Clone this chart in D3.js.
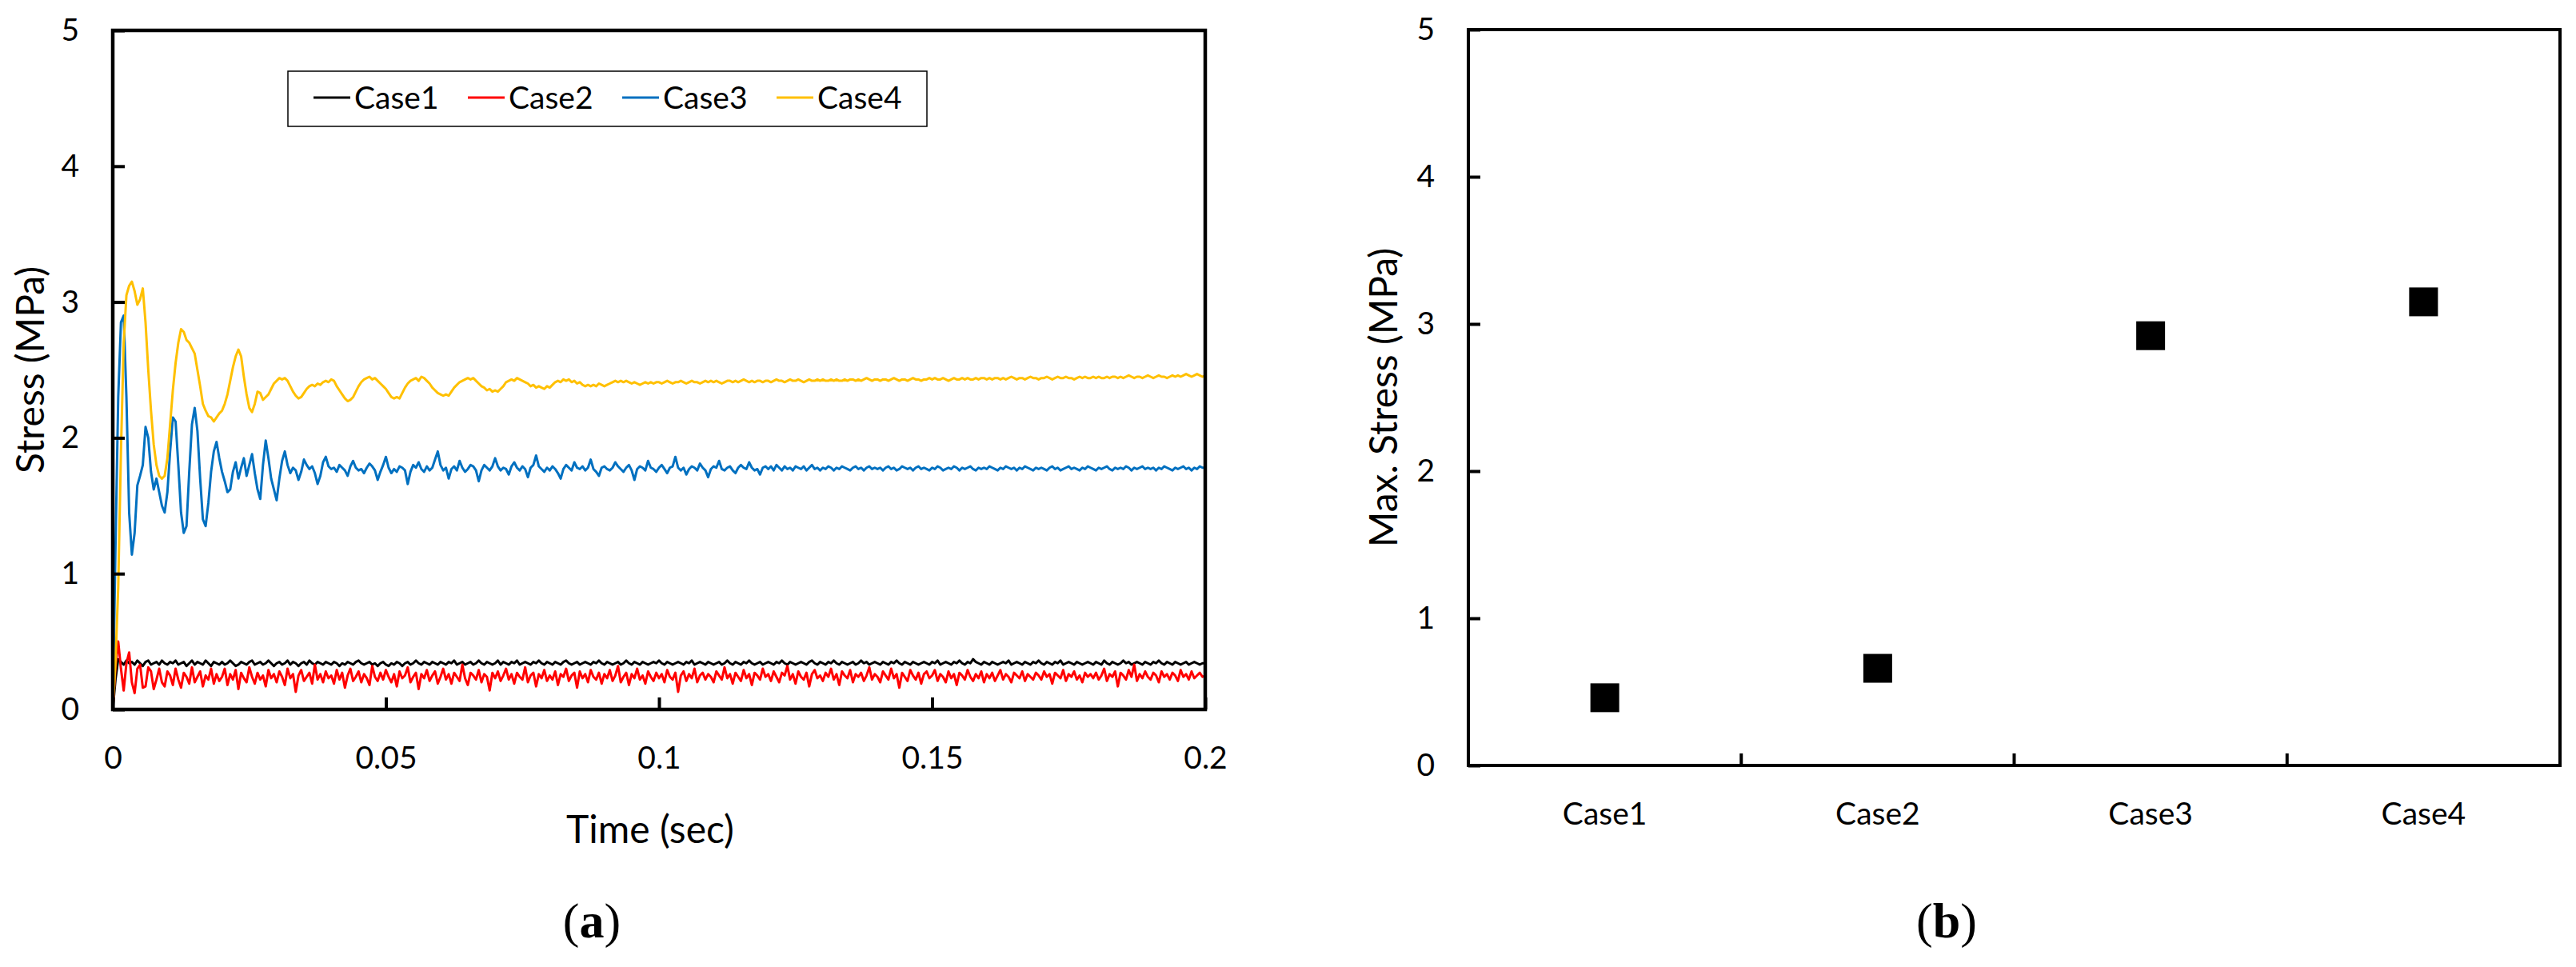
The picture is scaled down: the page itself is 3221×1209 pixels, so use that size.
<!DOCTYPE html>
<html>
<head>
<meta charset="utf-8">
<script src="https://cdn.jsdelivr.net/npm/d3@7"></script>
<style>
  body { margin: 0; background: #fff; }
  text { font-family: Lato, "Open Sans", sans-serif; fill: #000; }
</style>
</head>
<body>
<div id="chart"></div>
<script>
// sampled every 0.5 ms, 0 .. 0.2 s
const timeStep = 0.0005;

const case1Stress = [
  0, 0.22, 0.37, 0.35, 0.33, 0.36, 0.34, 0.35, 0.33, 0.36, 0.34, 0.32, 0.35, 0.36, 0.33, 0.34, 0.35, 0.33, 0.36, 0.34,
  0.33, 0.35, 0.34, 0.36, 0.33, 0.34, 0.35, 0.32, 0.34, 0.36, 0.33, 0.35, 0.34, 0.33, 0.36, 0.34, 0.32, 0.35, 0.34, 0.33,
  0.35, 0.33, 0.34, 0.36, 0.34, 0.32, 0.33, 0.35, 0.34, 0.33, 0.35, 0.36, 0.33, 0.34, 0.35, 0.33, 0.34, 0.36, 0.34, 0.32,
  0.34, 0.35, 0.33, 0.34, 0.36, 0.33, 0.35, 0.34, 0.32, 0.34, 0.35, 0.33, 0.36, 0.34, 0.33, 0.35, 0.34, 0.33, 0.35, 0.34,
  0.33, 0.35, 0.34, 0.32, 0.34, 0.33, 0.35, 0.34, 0.33, 0.35, 0.36, 0.34, 0.33, 0.34, 0.35, 0.33, 0.34, 0.32, 0.34, 0.35,
  0.33, 0.32, 0.34, 0.33, 0.35, 0.34, 0.32, 0.34, 0.35, 0.33, 0.34, 0.36, 0.34, 0.33, 0.35, 0.34, 0.33, 0.35, 0.34, 0.33,
  0.35, 0.34, 0.33, 0.35, 0.34, 0.36, 0.33, 0.34, 0.35, 0.33, 0.34, 0.35, 0.33, 0.34, 0.36, 0.34, 0.33, 0.35, 0.34, 0.33,
  0.34, 0.36, 0.33, 0.35, 0.34, 0.33, 0.35, 0.34, 0.36, 0.33, 0.34, 0.35, 0.34, 0.33, 0.35, 0.34, 0.36, 0.34, 0.33, 0.35,
  0.34, 0.33, 0.35, 0.34, 0.33, 0.35, 0.36, 0.34, 0.33, 0.34, 0.35, 0.33, 0.34, 0.35, 0.34, 0.33, 0.35, 0.34, 0.36, 0.34,
  0.33, 0.35, 0.34, 0.33, 0.34, 0.35, 0.33, 0.34, 0.36, 0.34, 0.33, 0.35, 0.34, 0.33, 0.35, 0.34, 0.33, 0.34, 0.35, 0.34,
  0.36, 0.34, 0.33, 0.35, 0.34, 0.33, 0.34, 0.35, 0.34, 0.33, 0.35, 0.34, 0.36, 0.33, 0.34, 0.35, 0.34, 0.33, 0.35, 0.34,
  0.33, 0.34, 0.35, 0.33, 0.34, 0.36, 0.34, 0.33, 0.35, 0.34, 0.33, 0.35, 0.34, 0.36, 0.34, 0.33, 0.34, 0.35, 0.33, 0.34,
  0.35, 0.34, 0.33, 0.35, 0.34, 0.36, 0.34, 0.33, 0.35, 0.34, 0.33, 0.34, 0.35, 0.34, 0.33, 0.35, 0.36, 0.34, 0.33, 0.35,
  0.34, 0.33, 0.35, 0.34, 0.36, 0.34, 0.33, 0.35, 0.34, 0.33, 0.34, 0.35, 0.33, 0.34, 0.36, 0.34, 0.35, 0.33, 0.34, 0.35,
  0.34, 0.33, 0.35, 0.34, 0.33, 0.35, 0.34, 0.36, 0.34, 0.33, 0.35, 0.34, 0.33, 0.35, 0.34, 0.33, 0.34, 0.35, 0.34, 0.33,
  0.35, 0.34, 0.36, 0.33, 0.34, 0.35, 0.34, 0.33, 0.35, 0.34, 0.36, 0.34, 0.33, 0.35, 0.34, 0.37, 0.35, 0.34, 0.33, 0.35,
  0.34, 0.33, 0.35, 0.34, 0.33, 0.34, 0.35, 0.34, 0.36, 0.33, 0.34, 0.35, 0.34, 0.33, 0.35, 0.34, 0.33, 0.35, 0.34, 0.36,
  0.34, 0.33, 0.35, 0.34, 0.33, 0.35, 0.34, 0.36, 0.33, 0.34, 0.35, 0.34, 0.33, 0.35, 0.34, 0.33, 0.34, 0.35, 0.34, 0.33,
  0.35, 0.34, 0.33, 0.36, 0.34, 0.33, 0.35, 0.34, 0.33, 0.34, 0.36, 0.34, 0.35, 0.33, 0.34, 0.35, 0.34, 0.33, 0.35, 0.34,
  0.33, 0.35, 0.34, 0.36, 0.34, 0.33, 0.35, 0.34, 0.33, 0.35, 0.34, 0.33, 0.34, 0.35, 0.33, 0.34, 0.35, 0.34, 0.33, 0.34,
  0.34
];

const case2Stress = [
  0, 0.32, 0.5, 0.3, 0.14, 0.34, 0.42, 0.2, 0.12, 0.3, 0.33, 0.16, 0.17, 0.31, 0.28, 0.15, 0.22, 0.3, 0.2, 0.17,
  0.28, 0.25, 0.18, 0.3, 0.22, 0.16, 0.27, 0.24, 0.19, 0.31, 0.2, 0.24, 0.28, 0.17, 0.25, 0.22, 0.3, 0.19, 0.26, 0.21,
  0.24, 0.3, 0.18, 0.26, 0.22, 0.29, 0.15, 0.27, 0.23, 0.2, 0.31, 0.24, 0.19, 0.27, 0.22, 0.25, 0.17, 0.29, 0.23, 0.26,
  0.2, 0.28, 0.24, 0.18, 0.3, 0.23, 0.26, 0.13, 0.25, 0.29, 0.21, 0.24, 0.27, 0.19, 0.33, 0.22, 0.26, 0.2, 0.28, 0.23,
  0.25, 0.19, 0.29, 0.22, 0.27, 0.16, 0.25, 0.3, 0.21, 0.24, 0.28, 0.2, 0.26, 0.23, 0.18, 0.32, 0.24, 0.21, 0.27, 0.22,
  0.29, 0.24, 0.2, 0.26, 0.17, 0.28, 0.23, 0.25, 0.31, 0.2, 0.24, 0.27, 0.15, 0.26, 0.23, 0.29, 0.21, 0.25, 0.28, 0.19,
  0.24, 0.3, 0.22, 0.26, 0.19, 0.27, 0.24, 0.21, 0.33, 0.23, 0.18, 0.27, 0.25, 0.22, 0.29, 0.2, 0.26, 0.24, 0.14, 0.27,
  0.23, 0.28, 0.21, 0.25, 0.3, 0.22, 0.26, 0.19, 0.27, 0.24, 0.22, 0.31, 0.2, 0.25, 0.27, 0.17, 0.26, 0.23, 0.29, 0.21,
  0.25, 0.22, 0.28, 0.18, 0.26, 0.24, 0.3, 0.21, 0.25, 0.27, 0.16, 0.28, 0.23, 0.26, 0.2, 0.29, 0.24, 0.22, 0.27, 0.19,
  0.26, 0.23, 0.29, 0.21, 0.25, 0.32, 0.2, 0.24, 0.27, 0.18, 0.26, 0.23, 0.3, 0.22, 0.25, 0.19, 0.28, 0.24, 0.21, 0.27,
  0.23, 0.26, 0.2, 0.29, 0.24, 0.22, 0.27, 0.13, 0.25, 0.28, 0.21, 0.26, 0.23, 0.3, 0.2, 0.25, 0.27, 0.22, 0.26, 0.24,
  0.2, 0.28, 0.25, 0.22, 0.31, 0.23, 0.26, 0.19, 0.27, 0.24, 0.21, 0.29, 0.23, 0.26, 0.18, 0.27, 0.25, 0.22, 0.3, 0.24,
  0.26, 0.21, 0.28, 0.24, 0.2, 0.27, 0.25, 0.32, 0.22, 0.26, 0.19, 0.28, 0.24, 0.22, 0.27, 0.17, 0.26, 0.29, 0.23, 0.25,
  0.21, 0.27, 0.24, 0.3, 0.22, 0.26, 0.18, 0.28, 0.25, 0.23, 0.29, 0.2, 0.26, 0.24, 0.27, 0.21, 0.25, 0.31, 0.22, 0.26,
  0.24, 0.2, 0.28, 0.25, 0.22, 0.3, 0.23, 0.26, 0.16, 0.27, 0.24, 0.21, 0.29, 0.25, 0.22, 0.27, 0.19, 0.26, 0.28, 0.23,
  0.25, 0.29, 0.21, 0.26, 0.24, 0.2, 0.28, 0.23, 0.26, 0.18, 0.27, 0.25, 0.22, 0.29, 0.24, 0.21, 0.26, 0.23, 0.28, 0.2,
  0.26, 0.23, 0.27, 0.21, 0.25, 0.29, 0.22, 0.26, 0.24, 0.2, 0.27, 0.25, 0.23, 0.28, 0.21, 0.26, 0.24, 0.22, 0.27, 0.25,
  0.22, 0.28, 0.24, 0.26, 0.19, 0.27, 0.25, 0.23, 0.29, 0.21, 0.26, 0.24, 0.28, 0.22, 0.25, 0.2, 0.27, 0.24, 0.26, 0.23,
  0.27, 0.22, 0.25, 0.3, 0.21, 0.26, 0.24, 0.28, 0.17, 0.27, 0.25, 0.22, 0.29, 0.24, 0.33, 0.21, 0.26, 0.23, 0.28, 0.24,
  0.22, 0.27, 0.25, 0.2, 0.28, 0.24, 0.26, 0.22, 0.27, 0.25, 0.21, 0.29, 0.24, 0.26, 0.22, 0.28, 0.23, 0.25, 0.27, 0.24,
  0.25
];

const case3Stress = [
  0, 1.2, 2.3, 2.85, 2.9, 2.3, 1.45, 1.14, 1.3, 1.65, 1.72, 1.8, 2.08, 2.0, 1.75, 1.62, 1.7, 1.6, 1.5, 1.45,
  1.6, 1.9, 2.15, 2.12, 1.8, 1.45, 1.3, 1.35, 1.75, 2.1, 2.22, 2.05, 1.7, 1.4, 1.35, 1.52, 1.75, 1.9, 1.97, 1.85,
  1.75, 1.68, 1.6, 1.62, 1.75, 1.82, 1.7, 1.78, 1.85, 1.72, 1.8, 1.88, 1.74, 1.62, 1.55, 1.8, 1.98, 1.85, 1.7, 1.62,
  1.54, 1.7, 1.83, 1.9, 1.8, 1.74, 1.78, 1.76, 1.69, 1.75, 1.84, 1.8, 1.77, 1.79, 1.74, 1.66, 1.72, 1.82, 1.86, 1.79,
  1.77, 1.78, 1.75, 1.8, 1.78, 1.76, 1.72, 1.79, 1.83, 1.78, 1.76, 1.77, 1.74, 1.78, 1.81, 1.79, 1.76, 1.69, 1.75, 1.8,
  1.86, 1.78, 1.74, 1.77, 1.75, 1.79, 1.78, 1.76, 1.66, 1.75, 1.8, 1.78, 1.82, 1.77, 1.75, 1.79, 1.76, 1.78, 1.84, 1.9,
  1.8, 1.76, 1.78, 1.7, 1.77, 1.79, 1.76, 1.83, 1.78, 1.75, 1.77, 1.8, 1.79, 1.76, 1.68, 1.76, 1.8, 1.78, 1.76, 1.79,
  1.85, 1.79, 1.76, 1.78, 1.77, 1.73, 1.79, 1.82, 1.78, 1.76, 1.79, 1.77, 1.71, 1.78, 1.8, 1.87, 1.79, 1.77, 1.75, 1.78,
  1.76, 1.79, 1.77, 1.74, 1.7, 1.77, 1.8, 1.78, 1.76, 1.82, 1.78, 1.77, 1.79, 1.76, 1.78, 1.84, 1.77, 1.75, 1.72, 1.78,
  1.79, 1.77, 1.76, 1.78, 1.82, 1.79, 1.77, 1.75, 1.78, 1.8, 1.76, 1.69, 1.77, 1.79, 1.78, 1.76, 1.83, 1.78, 1.77, 1.75,
  1.78, 1.8, 1.77, 1.74, 1.78, 1.79, 1.86, 1.78, 1.76, 1.78, 1.73, 1.77, 1.79, 1.78, 1.76, 1.81, 1.78, 1.76, 1.71, 1.77,
  1.79, 1.78, 1.83, 1.77, 1.76, 1.78, 1.79, 1.76, 1.74, 1.78, 1.8, 1.78, 1.77, 1.82, 1.78, 1.76, 1.77, 1.73, 1.78, 1.79,
  1.77, 1.79, 1.76, 1.8, 1.78, 1.76, 1.79, 1.77, 1.78, 1.76, 1.79, 1.78, 1.77, 1.79, 1.76, 1.78, 1.8, 1.77, 1.78, 1.76,
  1.78, 1.77, 1.79, 1.78, 1.76, 1.78, 1.77, 1.79, 1.78, 1.77, 1.76, 1.78, 1.79, 1.77, 1.78, 1.76, 1.78, 1.79, 1.77, 1.78,
  1.77, 1.78, 1.76, 1.78, 1.79, 1.77, 1.78, 1.76, 1.77, 1.79, 1.78, 1.77, 1.78, 1.76, 1.78, 1.79, 1.77, 1.78, 1.77, 1.76,
  1.78, 1.77, 1.79, 1.78, 1.76, 1.77, 1.78, 1.77, 1.79, 1.78, 1.76, 1.78, 1.77, 1.78, 1.79, 1.77, 1.76, 1.78, 1.77, 1.78,
  1.77, 1.79, 1.78, 1.77, 1.76, 1.78, 1.77, 1.79, 1.78, 1.77, 1.78, 1.76, 1.78, 1.77, 1.79, 1.78, 1.77, 1.76, 1.78, 1.77,
  1.78, 1.77, 1.76, 1.78, 1.79, 1.77, 1.78, 1.76, 1.77, 1.78, 1.79, 1.77, 1.78, 1.77, 1.76, 1.78, 1.77, 1.79, 1.78, 1.77,
  1.76, 1.78, 1.77, 1.78, 1.79, 1.77, 1.76, 1.78, 1.77, 1.78, 1.77, 1.79, 1.78, 1.76, 1.78, 1.77, 1.78, 1.79, 1.77, 1.78,
  1.77, 1.78, 1.76, 1.78, 1.77, 1.79, 1.78, 1.77, 1.76, 1.78, 1.77, 1.78, 1.79, 1.77, 1.78, 1.76, 1.78, 1.77, 1.79, 1.78,
  1.78
];

const case4Stress = [
  0, 0.35, 0.9, 1.9, 2.7, 3.05, 3.12, 3.15, 3.08, 2.98, 3.02, 3.1, 2.85, 2.5, 2.2, 1.95, 1.8, 1.72, 1.7, 1.72,
  1.85, 2.1, 2.35, 2.55, 2.7, 2.8, 2.78, 2.72, 2.7, 2.66, 2.62, 2.5, 2.38, 2.25, 2.2, 2.16, 2.15, 2.12, 2.15, 2.18,
  2.2, 2.25, 2.32, 2.42, 2.52, 2.6, 2.65, 2.6, 2.45, 2.32, 2.22, 2.19, 2.25, 2.34, 2.33, 2.28, 2.3, 2.32, 2.36, 2.4,
  2.42, 2.44, 2.43, 2.44, 2.42, 2.38, 2.34, 2.31, 2.29, 2.3, 2.33, 2.36, 2.38, 2.39, 2.38, 2.4, 2.39, 2.41, 2.42, 2.41,
  2.43, 2.42, 2.38, 2.35, 2.32, 2.29, 2.27, 2.28, 2.3, 2.34, 2.38, 2.41, 2.43, 2.44, 2.45, 2.43, 2.44, 2.42, 2.4, 2.38,
  2.36, 2.33, 2.3, 2.29, 2.3, 2.29, 2.33, 2.37, 2.4, 2.42, 2.43, 2.44, 2.42, 2.45, 2.44, 2.42, 2.4, 2.37, 2.35, 2.33,
  2.32, 2.31, 2.32, 2.31, 2.34, 2.37, 2.39, 2.41, 2.42, 2.43, 2.44, 2.43, 2.44, 2.42, 2.4, 2.38, 2.37, 2.35, 2.36, 2.34,
  2.35, 2.34, 2.36, 2.38, 2.41, 2.42, 2.43, 2.42, 2.44, 2.43, 2.42, 2.41, 2.4, 2.38, 2.39, 2.37, 2.38, 2.37, 2.36, 2.38,
  2.37, 2.39, 2.41, 2.42, 2.41, 2.43, 2.42, 2.43, 2.41, 2.42, 2.4, 2.41, 2.39, 2.38, 2.39, 2.38, 2.39, 2.38, 2.4, 2.39,
  2.38, 2.39, 2.4, 2.41, 2.42, 2.41, 2.42, 2.41, 2.42, 2.41, 2.4, 2.41, 2.4, 2.39, 2.4, 2.41, 2.4, 2.41, 2.4, 2.41,
  2.41, 2.4, 2.41, 2.42, 2.41, 2.4, 2.41, 2.41, 2.42, 2.41, 2.4, 2.41, 2.42, 2.41, 2.41, 2.4, 2.41, 2.42, 2.41, 2.42,
  2.41, 2.42, 2.41, 2.4, 2.41, 2.42, 2.42, 2.41, 2.42, 2.41, 2.42, 2.43, 2.42, 2.41, 2.42, 2.41, 2.42, 2.42, 2.41, 2.42,
  2.42, 2.41, 2.42, 2.43, 2.42, 2.42, 2.41, 2.42, 2.43, 2.42, 2.42, 2.43, 2.42, 2.41, 2.42, 2.43, 2.42, 2.42, 2.43, 2.42,
  2.43, 2.42, 2.42, 2.43, 2.42, 2.43, 2.42, 2.42, 2.43, 2.42, 2.43, 2.43, 2.42, 2.43, 2.42, 2.43, 2.44, 2.43, 2.42, 2.43,
  2.43, 2.42, 2.43, 2.43, 2.42, 2.43, 2.44, 2.43, 2.42, 2.43, 2.43, 2.42, 2.43, 2.44, 2.43, 2.43, 2.42, 2.43, 2.43, 2.44,
  2.43, 2.44, 2.43, 2.43, 2.44, 2.43, 2.42, 2.43, 2.44, 2.43, 2.43, 2.44, 2.43, 2.44, 2.43, 2.43, 2.44, 2.43, 2.44, 2.44,
  2.43, 2.44, 2.43, 2.44, 2.44, 2.43, 2.44, 2.43, 2.44, 2.45, 2.44, 2.43, 2.44, 2.44, 2.43, 2.44, 2.45, 2.44, 2.44, 2.43,
  2.44, 2.44, 2.45, 2.44, 2.43, 2.44, 2.45, 2.44, 2.44, 2.45, 2.44, 2.44, 2.43, 2.44, 2.45, 2.44, 2.45, 2.44, 2.44, 2.45,
  2.44, 2.45, 2.44, 2.44, 2.45, 2.44, 2.45, 2.45, 2.44, 2.45, 2.44, 2.45, 2.46, 2.45, 2.44, 2.45, 2.45, 2.44, 2.45, 2.46,
  2.45, 2.44, 2.45, 2.46, 2.45, 2.45, 2.44, 2.45, 2.46, 2.45, 2.46, 2.45, 2.46, 2.47, 2.46, 2.45, 2.46, 2.47, 2.46, 2.45,
  2.46
];

const caseNames = ["Case1", "Case2", "Case3", "Case4"];
const caseColors = ["#000000", "#ff0000", "#0070c0", "#ffc000"];
const maxStress = [0.46, 0.66, 2.92, 3.15];
const stressTicks = [0, 1, 2, 3, 4, 5];
const timeTicks = [0, 0.05, 0.1, 0.15, 0.2];

const series = [case1Stress, case2Stress, case3Stress, case4Stress];

const svg = d3.select("#chart").append("svg")
  .attr("width", 3221)
  .attr("height", 1209)
  .style("display", "block");

svg.append("rect").attr("width", 3221).attr("height", 1209).attr("fill", "#fff");

// ---------- panel (a): stress vs time ----------
const x = d3.scaleLinear([0, 0.2], [141, 1507]);
const y = d3.scaleLinear([0, 5], [887, 38]);

svg.append("clipPath").attr("id", "clipA")
  .append("rect")
    .attr("x", x(0)).attr("y", y(5))
    .attr("width", x(0.2) - x(0)).attr("height", y(0) - y(5));

const line = d3.line()
  .x((d, i) => x(i * timeStep))
  .y(d => y(d));

svg.append("g")
    .attr("clip-path", "url(#clipA)")
  .selectAll("path")
  .data(series)
  .join("path")
    .attr("fill", "none")
    .attr("stroke", (d, i) => caseColors[i])
    .attr("stroke-width", 3)
    .attr("stroke-linejoin", "round")
    .attr("d", line);

const yAxisA = svg.append("g")
  .attr("transform", `translate(${x(0)},0)`)
  .call(d3.axisLeft(y).tickValues(stressTicks).tickFormat(d => String(d))
    .tickSize(-15).tickPadding(42));

const xAxisA = svg.append("g")
  .attr("transform", `translate(0,${y(0)})`)
  .call(d3.axisBottom(x).tickValues(timeTicks).tickFormat(d => String(d))
    .tickSize(-15).tickPadding(46));

[yAxisA, xAxisA].forEach(g => {
  g.select(".domain").remove();
  g.selectAll("line").attr("stroke", "#000").attr("stroke-width", 4);
  g.selectAll("text").attr("font-size", 39);
});

svg.append("rect")
  .attr("x", x(0)).attr("y", y(5))
  .attr("width", x(0.2) - x(0)).attr("height", y(0) - y(5))
  .attr("fill", "none").attr("stroke", "#000").attr("stroke-width", 4.5);

// legend
const legend = svg.append("g");
legend.append("rect")
  .attr("x", 360).attr("y", 89).attr("width", 799).attr("height", 69)
  .attr("fill", "#fff").attr("stroke", "#000").attr("stroke-width", 1.5);

const legendItem = legend.selectAll("g.item")
  .data(caseNames)
  .join("g")
    .attr("class", "item")
    .attr("transform", (d, i) => `translate(${392 + i * 193},122)`);

legendItem.append("line")
  .attr("x1", 0).attr("x2", 46)
  .attr("stroke", (d, i) => caseColors[i])
  .attr("stroke-width", 3);

legendItem.append("text")
  .attr("x", 51)
  .attr("dy", "0.36em")
  .attr("font-size", 39)
  .text(d => d);

svg.append("text")
  .attr("transform", `translate(38,${(y(0) + y(5)) / 2}) rotate(-90)`)
  .attr("text-anchor", "middle")
  .attr("dy", "0.35em")
  .attr("font-size", 48)
  .text("Stress (MPa)");

svg.append("text")
  .attr("x", 813).attr("y", 1037)
  .attr("text-anchor", "middle")
  .attr("dy", "0.35em")
  .attr("font-size", 48)
  .text("Time (sec)");

// ---------- panel (b): max stress per case ----------
const xb = d3.scaleBand(caseNames, [1836, 3201]);
const yb = d3.scaleLinear([0, 5], [957, 37]);

const yAxisB = svg.append("g")
  .attr("transform", `translate(${xb.range()[0]},0)`)
  .call(d3.axisLeft(yb).tickValues(stressTicks).tickFormat(d => String(d))
    .tickSize(-15).tickPadding(42));

const xAxisB = svg.append("g")
  .attr("transform", `translate(0,${yb(0)})`)
  .call(d3.axisBottom(xb).tickSize(0).tickPadding(46));

[yAxisB, xAxisB].forEach(g => {
  g.select(".domain").remove();
  g.selectAll("line").attr("stroke", "#000").attr("stroke-width", 4);
  g.selectAll("text").attr("font-size", 39);
});

// boundary ticks between categories
svg.append("g")
  .selectAll("line")
  .data(caseNames.slice(1))
  .join("line")
    .attr("x1", d => xb(d)).attr("x2", d => xb(d))
    .attr("y1", yb(0)).attr("y2", yb(0) - 15)
    .attr("stroke", "#000").attr("stroke-width", 4);

svg.append("g")
  .selectAll("rect")
  .data(maxStress)
  .join("rect")
    .attr("x", (d, i) => xb(caseNames[i]) + xb.bandwidth() / 2 - 18)
    .attr("y", d => yb(d) - 18)
    .attr("width", 36).attr("height", 36)
    .attr("fill", "#000");

svg.append("rect")
  .attr("x", xb.range()[0]).attr("y", yb(5))
  .attr("width", xb.range()[1] - xb.range()[0]).attr("height", yb(0) - yb(5))
  .attr("fill", "none").attr("stroke", "#000").attr("stroke-width", 4);

svg.append("text")
  .attr("transform", `translate(1730,${(yb(0) + yb(5)) / 2}) rotate(-90)`)
  .attr("text-anchor", "middle")
  .attr("dy", "0.35em")
  .attr("font-size", 48)
  .text("Max. Stress (MPa)");

// sub-figure captions
[["a", 740], ["b", 2434]].forEach(([letter, cx]) => {
  const t = svg.append("text")
    .attr("x", cx).attr("y", 1150)
    .attr("text-anchor", "middle")
    .attr("dy", "0.35em")
    .attr("font-size", 62)
    .style("font-family", "'Liberation Serif', 'DejaVu Serif', serif");
  t.append("tspan").text("(");
  t.append("tspan").attr("font-weight", "bold").text(letter);
  t.append("tspan").text(")");
});
</script>
</body>
</html>
